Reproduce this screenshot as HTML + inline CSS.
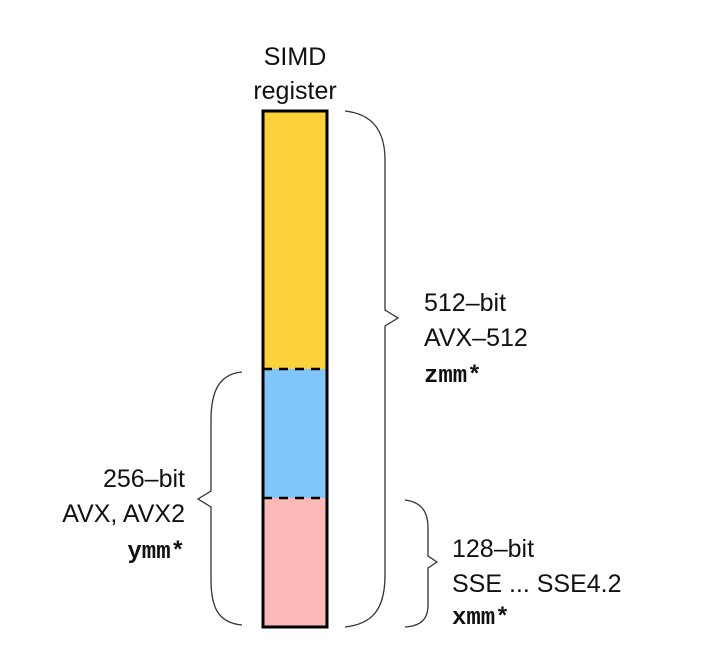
<!DOCTYPE html>
<html><head><meta charset="utf-8"><style>
html,body{margin:0;padding:0;background:#fff;}
svg{display:block;}
text{font-family:"Liberation Sans",sans-serif;font-size:25px;fill:#111;}
.m{font-family:"Liberation Mono",monospace;font-weight:bold;font-size:24px;}
</style></head><body>
<svg width="710" height="656" viewBox="0 0 710 656">
<text x="295" y="65" text-anchor="middle">SIMD</text>
<text x="295" y="99" text-anchor="middle">register</text>
<rect x="263" y="111" width="64" height="258" fill="#fdd13a"/>
<rect x="263" y="369" width="64" height="129" fill="#80c8fb"/>
<rect x="263" y="498" width="64" height="129" fill="#fdb8b8"/>
<line x1="263" y1="369" x2="327" y2="369" stroke="#000" stroke-width="2.5" stroke-dasharray="9,7"/>
<line x1="263" y1="498" x2="327" y2="498" stroke="#000" stroke-width="2.5" stroke-dasharray="9,7"/>
<rect x="263" y="111" width="64" height="516" fill="none" stroke="#000" stroke-width="3"/>
<g fill="none" stroke="#333" stroke-width="1.3">
<path d="M345,111 C372,114 385,130 385,160 L385,310 L398,318 L385,326 L385,575 C385,610 372,624 345,627"/>
<path d="M242,372 C220,374 211,390 211,420 L211,491 L198,499 L211,507 L211,580 C211,610 220,623 242,625"/>
<path d="M405,500 C420,502 428,510 428,528 L428,556 L437,562 L428,568 L428,605 C428,620 420,626 405,627"/>
</g>
<text x="424" y="311">512–bit</text>
<text x="424" y="346">AVX–512</text>
<text x="424" y="382" class="m">zmm*</text>
<text x="185" y="487" text-anchor="end">256–bit</text>
<text x="185" y="522" text-anchor="end">AVX, AVX2</text>
<text x="185" y="558" text-anchor="end" class="m">ymm*</text>
<text x="452" y="557">128–bit</text>
<text x="452" y="592">SSE ... SSE4.2</text>
<text x="452" y="624" class="m">xmm*</text>
</svg>
</body></html>
